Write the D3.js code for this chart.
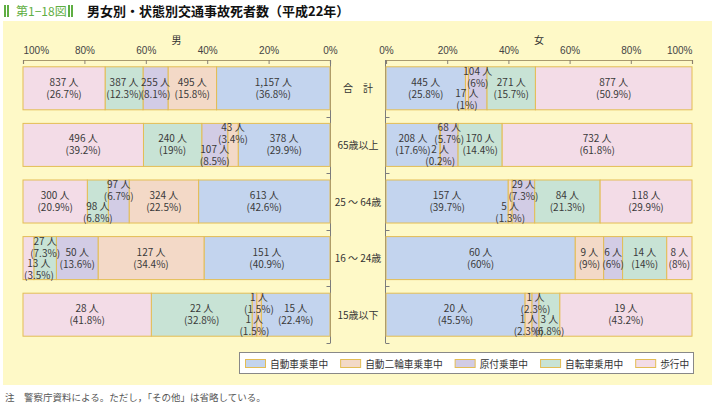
<!DOCTYPE html>
<html lang="ja">
<head>
<meta charset="UTF-8">
<title>男女別・状態別交通事故死者数</title>
<script src="https://cdnjs.cloudflare.com/ajax/libs/d3/7.8.5/d3.min.js"></script>
<style>
  body { margin: 0; background: #fff; }
  svg { font-family: "Noto Sans CJK JP", "Noto Sans", sans-serif; }
  .seg { stroke: #e3bd55; stroke-width: 1; }
  .lbl { font-size: 10px; fill: #3a3a3a; text-anchor: middle; }
  .tick text { font-size: 10px; fill: #444; }
  .cat { font-size: 10px; fill: #333; text-anchor: middle; }
</style>
</head>
<body>
<div id="chart"></div>
<script>
// categories / series
var categories = ["合　計", "65歳以上", "25 ～ 64歳", "16 ～ 24歳", "15歳以下"];
var modes = ["自動車乗車中", "自動二輪車乗車中", "原付乗車中", "自転車乗用中", "歩行中"];
var colors = ["#c3d4ee", "#f3d9c7", "#d2cce5", "#c8e3d5", "#f3dce7"];
var axisTicks = [0, 0.2, 0.4, 0.6, 0.8, 1];

// 男
var maleCounts = [
  [1157, 495, 255, 387, 837],
  [378, 43, 107, 240, 496],
  [613, 324, 97, 98, 300],
  [151, 127, 50, 27, 13],
  [15, 1, 1, 22, 28]
];
var malePct = [
  [36.8, 15.8, 8.1, 12.3, 26.7],
  [29.9, 3.4, 8.5, 19, 39.2],
  [42.6, 22.5, 6.7, 6.8, 20.9],
  [40.9, 34.4, 13.6, 7.3, 3.5],
  [22.4, 1.5, 1.5, 32.8, 41.8]
];
// 女
var femaleCounts = [
  [445, 17, 104, 271, 877],
  [208, 2, 68, 170, 732],
  [157, 5, 29, 84, 118],
  [60, 9, 6, 14, 8],
  [20, 1, 1, 3, 19]
];
var femalePct = [
  [25.8, 1, 6, 15.7, 50.9],
  [17.6, 0.2, 5.7, 14.4, 61.8],
  [39.7, 1.3, 7.3, 21.3, 29.9],
  [60, 9, 6, 14, 8],
  [45.5, 2.3, 2.3, 6.8, 43.2]
];

var W = 716, H = 407;
var svg = d3.select("#chart").append("svg").attr("width", W).attr("height", H);

// title
var green = "#5fae43";
[4, 7, 68, 71].forEach(function (x) {
  svg.append("rect").attr("x", x).attr("y", 5).attr("width", 2).attr("height", 12).attr("fill", green);
});
svg.append("text").attr("x", 16).attr("y", 15.5).attr("fill", green)
  .style("font-size", "12px").text("第1−18図");
svg.append("text").attr("x", 87).attr("y", 16).attr("fill", "#111")
  .style("font-size", "13px").style("font-weight", "bold")
  .text("男女別・状態別交通事故死者数（平成22年）");

// panel
svg.append("rect").attr("x", 3).attr("y", 21).attr("width", 709).attr("height", 364).attr("fill", "#fef9c7");

var y = d3.scaleBand().domain(categories).range([60, 343]).paddingInner(0.24).paddingOuter(0.12);
var xMale = d3.scaleLinear().domain([0, 1]).range([330, 23]);
var xFemale = d3.scaleLinear().domain([0, 1]).range([386, 692]);

function drawSide(counts, pcts, x, female, title) {
  var g = svg.append("g");
  var fmt = d3.format(",");

  // top axis
  var ax = g.append("g").attr("transform", "translate(0,60)")
    .call(d3.axisTop(x).tickValues(axisTicks).tickSize(-4).tickPadding(6)
      .tickFormat(function (d) { return Math.round(d * 100) + "%"; }));
  ax.select(".domain").attr("stroke", "#a89a6e").attr("stroke-width", 1.2);
  ax.selectAll(".tick line").attr("stroke", "#8a8070");
  ax.selectAll(".tick text").attr("fill", "#444").style("font-size", "10px").attr("font-family", null);
  ax.selectAll(".tick text").filter(function (d) { return d === 1; })
    .attr("text-anchor", female ? "end" : "start");

  g.append("text").attr("x", (x.range()[0] + x.range()[1]) / 2).attr("y", 44)
    .attr("text-anchor", "middle").style("font-size", "10px").attr("fill", "#333").text(title);

  // vertical axis
  var x0 = x(0) + (female ? -0.5 : 0.5);
  g.append("line").attr("x1", x0).attr("x2", x0).attr("y1", 60).attr("y2", 343).attr("stroke", "#7c7c7c");
  d3.range(1, 6).forEach(function (k) {
    var yy = Math.round(60 + k * y.step()) + 0.5;
    g.append("line").attr("x1", x0).attr("x2", x0 + (female ? 4 : -4))
      .attr("y1", yy).attr("y2", yy).attr("stroke", "#7c7c7c");
  });

  categories.forEach(function (cat, r) {
    var row = counts[r];
    var total = d3.sum(row);
    var cum = 0;
    var segs = row.map(function (c, i) {
      var s = { i: i, c: c, p: pcts[r][i], a: cum / total, b: (cum + c) / total };
      cum += c;
      return s;
    });
    // small segments next to another small one get staggered labels
    segs.forEach(function (s) { s.small = (s.b - s.a) < 0.09; });
    var run = -1;
    segs.forEach(function (s, i) {
      var nb = (i > 0 && segs[i - 1].small) || (i < segs.length - 1 && segs[i + 1].small);
      if (s.small && nb) {
        run = (i > 0 && segs[i - 1].shift) ? run + 1 : 0;
        s.shift = ((run % 2 === 0) !== female) ? "up" : "down";
      }
    });

    var by = y(cat), bh = y.bandwidth(), cy = by + bh / 2;
    segs.forEach(function (s) {
      var xa = x(s.a), xb = x(s.b);
      g.append("rect").attr("class", "seg")
        .attr("x", Math.min(xa, xb)).attr("y", by)
        .attr("width", Math.abs(xb - xa)).attr("height", bh)
        .attr("fill", colors[s.i]);
    });
    segs.forEach(function (s) {
      var cx = (x(s.a) + x(s.b)) / 2;
      var y1 = cy - 2.5, y2 = cy + 9.5;
      if (s.shift === "up") { y1 = cy - 13.5; y2 = cy - 1.5; }
      if (s.shift === "down") { y1 = cy + 8.5; y2 = cy + 20.5; }
      var t = g.append("text").attr("class", "lbl").attr("x", cx);
      t.append("tspan").attr("x", cx).attr("y", y1).text(fmt(s.c) + " 人");
      t.append("tspan").attr("x", cx).attr("y", y2).text("(" + s.p + "%)");
      var w = t.node().getBBox().width;
      var edgeL = Math.min(x(0), x(1)), edgeR = Math.max(x(0), x(1));
      var nx = Math.max(edgeL + w / 2 + 1, Math.min(edgeR - w / 2 - 1, cx));
      if (nx !== cx) t.selectAll("tspan").attr("x", nx);
    });

    if (female) {
      g.append("text").attr("class", "cat").attr("x", 358).attr("y", cy + 4).text(cat);
    }
  });
}

drawSide(maleCounts, malePct, xMale, false, "男");
drawSide(femaleCounts, femalePct, xFemale, true, "女");

// legend
var lg = svg.append("g");
lg.append("rect").attr("x", 239.5).attr("y", 352.5).attr("width", 454).attr("height", 21)
  .attr("fill", "#fff").attr("stroke", "#888");
var lx = 245;
modes.forEach(function (m, i) {
  lg.append("rect").attr("x", lx + 0.5).attr("y", 359.5).attr("width", 20).attr("height", 8)
    .attr("fill", colors[i]).attr("stroke", "#e3bd55");
  var t = lg.append("text").attr("x", lx + 25).attr("y", 367.5).attr("fill", "#333")
    .style("font-size", "9.7px").text(m);
  lx += 25 + t.node().getComputedTextLength() + 12;
});

// note
svg.append("text").attr("x", 5).attr("y", 401).attr("fill", "#555").style("font-size", "9.5px")
  .text("注　警察庁資料による。ただし，「その他」は省略している。");
</script>
</body>
</html>
